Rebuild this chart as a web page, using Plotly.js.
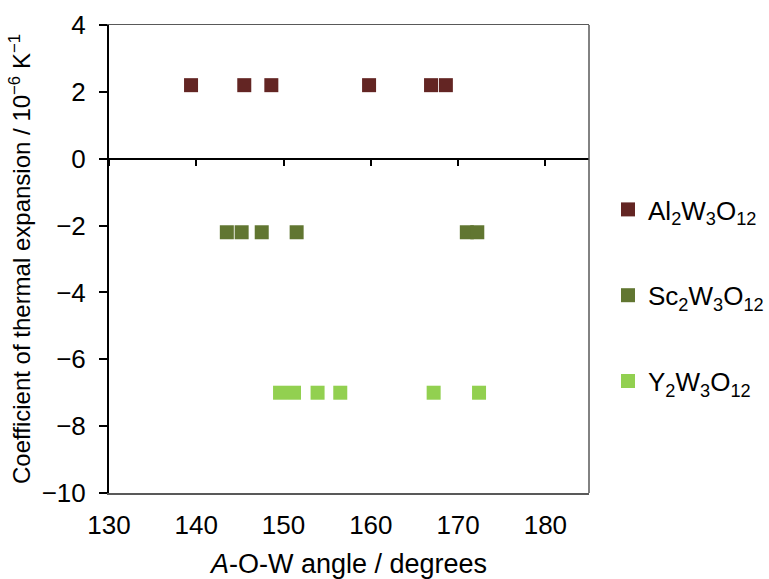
<!DOCTYPE html>
<html>
<head>
<meta charset="utf-8">
<script src="https://cdn.plot.ly/plotly-3.0.1.min.js"></script>
<style>
  html, body { margin: 0; padding: 0; background: #fff; }
  #chart { width: 769px; height: 579px; }
</style>
</head>
<body>
<div id="chart"></div>
<script>
// A-O-W bond angles (degrees) and thermal expansion coefficients (10^-6 K^-1)
const alAngle = [139.4, 145.5, 148.6, 159.8, 166.9, 168.6];
const alCTE   = [2.2, 2.2, 2.2, 2.2, 2.2, 2.2];

const scAngle = [143.5, 145.2, 147.5, 151.5, 171.0, 172.2];
const scCTE   = [-2.2, -2.2, -2.2, -2.2, -2.2, -2.2];

const yAngle  = [149.6, 151.2, 153.9, 156.5, 167.2, 172.4];
const yCTE    = [-7.0, -7.0, -7.0, -7.0, -7.0, -7.0];

const seriesNames = [
  'Al<sub>2</sub>W<sub>3</sub>O<sub>12</sub>',
  'Sc<sub>2</sub>W<sub>3</sub>O<sub>12</sub>',
  'Y<sub>2</sub>W<sub>3</sub>O<sub>12</sub>'
];
const seriesColors = ['#632523', '#617631', '#92D050'];

const xTicks = [130, 140, 150, 160, 170, 180];
const yTicks = [4, 2, 0, -2, -4, -6, -8, -10];

const FONT = 'Arial, "Liberation Sans", sans-serif';

function series(x, y, i) {
  return {
    type: 'scatter', mode: 'markers',
    x: x, y: y,
    name: seriesNames[i],
    legendgroup: 'g' + i,
    marker: { symbol: 'square', size: 14, color: seriesColors[i], line: { width: 0 } },
    hoverinfo: 'x+y'
  };
}

const data = [
  series(alAngle, alCTE, 0),
  series(scAngle, scCTE, 1),
  series(yAngle, yCTE, 2),
  // carries the axis that crosses at zero
  { type: 'scatter', mode: 'markers', x: [], y: [], xaxis: 'x2', showlegend: false, hoverinfo: 'skip' }
];

const yMin = -10, yMax = 4;

const layout = {
  width: 769, height: 579,
  margin: { l: 109, r: 180, t: 25, b: 86 },
  paper_bgcolor: '#ffffff',
  plot_bgcolor: '#ffffff',
  font: { family: FONT, color: '#000000', size: 25 },
  showlegend: true,
  legend: {
    xref: 'container', yref: 'container',
    x: 608 / 769, y: 1 - 186 / 579,
    xanchor: 'left', yanchor: 'top',
    font: { family: FONT, size: 26, color: '#000000' },
    tracegroupgap: 49,
    bgcolor: 'rgba(0,0,0,0)'
  },
  xaxis: {
    range: [130, 185],
    tickvals: xTicks,
    ticks: '',
    ticklabelstandoff: 8,
    showgrid: false, zeroline: false,
    showline: true, mirror: true,
    linecolor: '#595959', linewidth: 1.5,
    tickfont: { family: FONT, size: 26, color: '#000000' },
    title: { text: '<i>A</i>-O-W angle / degrees', font: { family: FONT, size: 27, color: '#000000' }, standoff: 15 },
    fixedrange: true
  },
  xaxis2: {
    overlaying: 'x',
    anchor: 'free',
    position: (0 - yMin) / (yMax - yMin),
    range: [130, 185],
    tickvals: xTicks,
    ticks: 'outside', ticklen: 6, tickwidth: 2, tickcolor: '#000000',
    showticklabels: false,
    showgrid: false, zeroline: false,
    showline: true, linecolor: '#000000', linewidth: 2,
    fixedrange: true
  },
  yaxis: {
    range: [yMin, yMax],
    tickvals: yTicks,
    ticks: 'outside', ticklen: 8, tickwidth: 2, tickcolor: '#000000',
    ticklabelstandoff: 8,
    showgrid: false, zeroline: false,
    showline: true, linecolor: '#000000', linewidth: 2,
    tickfont: { family: FONT, size: 26, color: '#000000' },
    title: {
      text: 'Coefficient of thermal expansion / 10<sup>−6</sup> K<sup>−1</sup>',
      font: { family: FONT, size: 24, color: '#000000' },
      standoff: 4
    },
    fixedrange: true
  },
  shapes: [
    { type: 'line', xref: 'paper', yref: 'paper', x0: 1, x1: 1, y0: 0, y1: 1,
      line: { color: '#595959', width: 1.5 } }
  ]
};

Plotly.newPlot('chart', data, layout, { displayModeBar: false, staticPlot: true });
</script>
</body>
</html>
